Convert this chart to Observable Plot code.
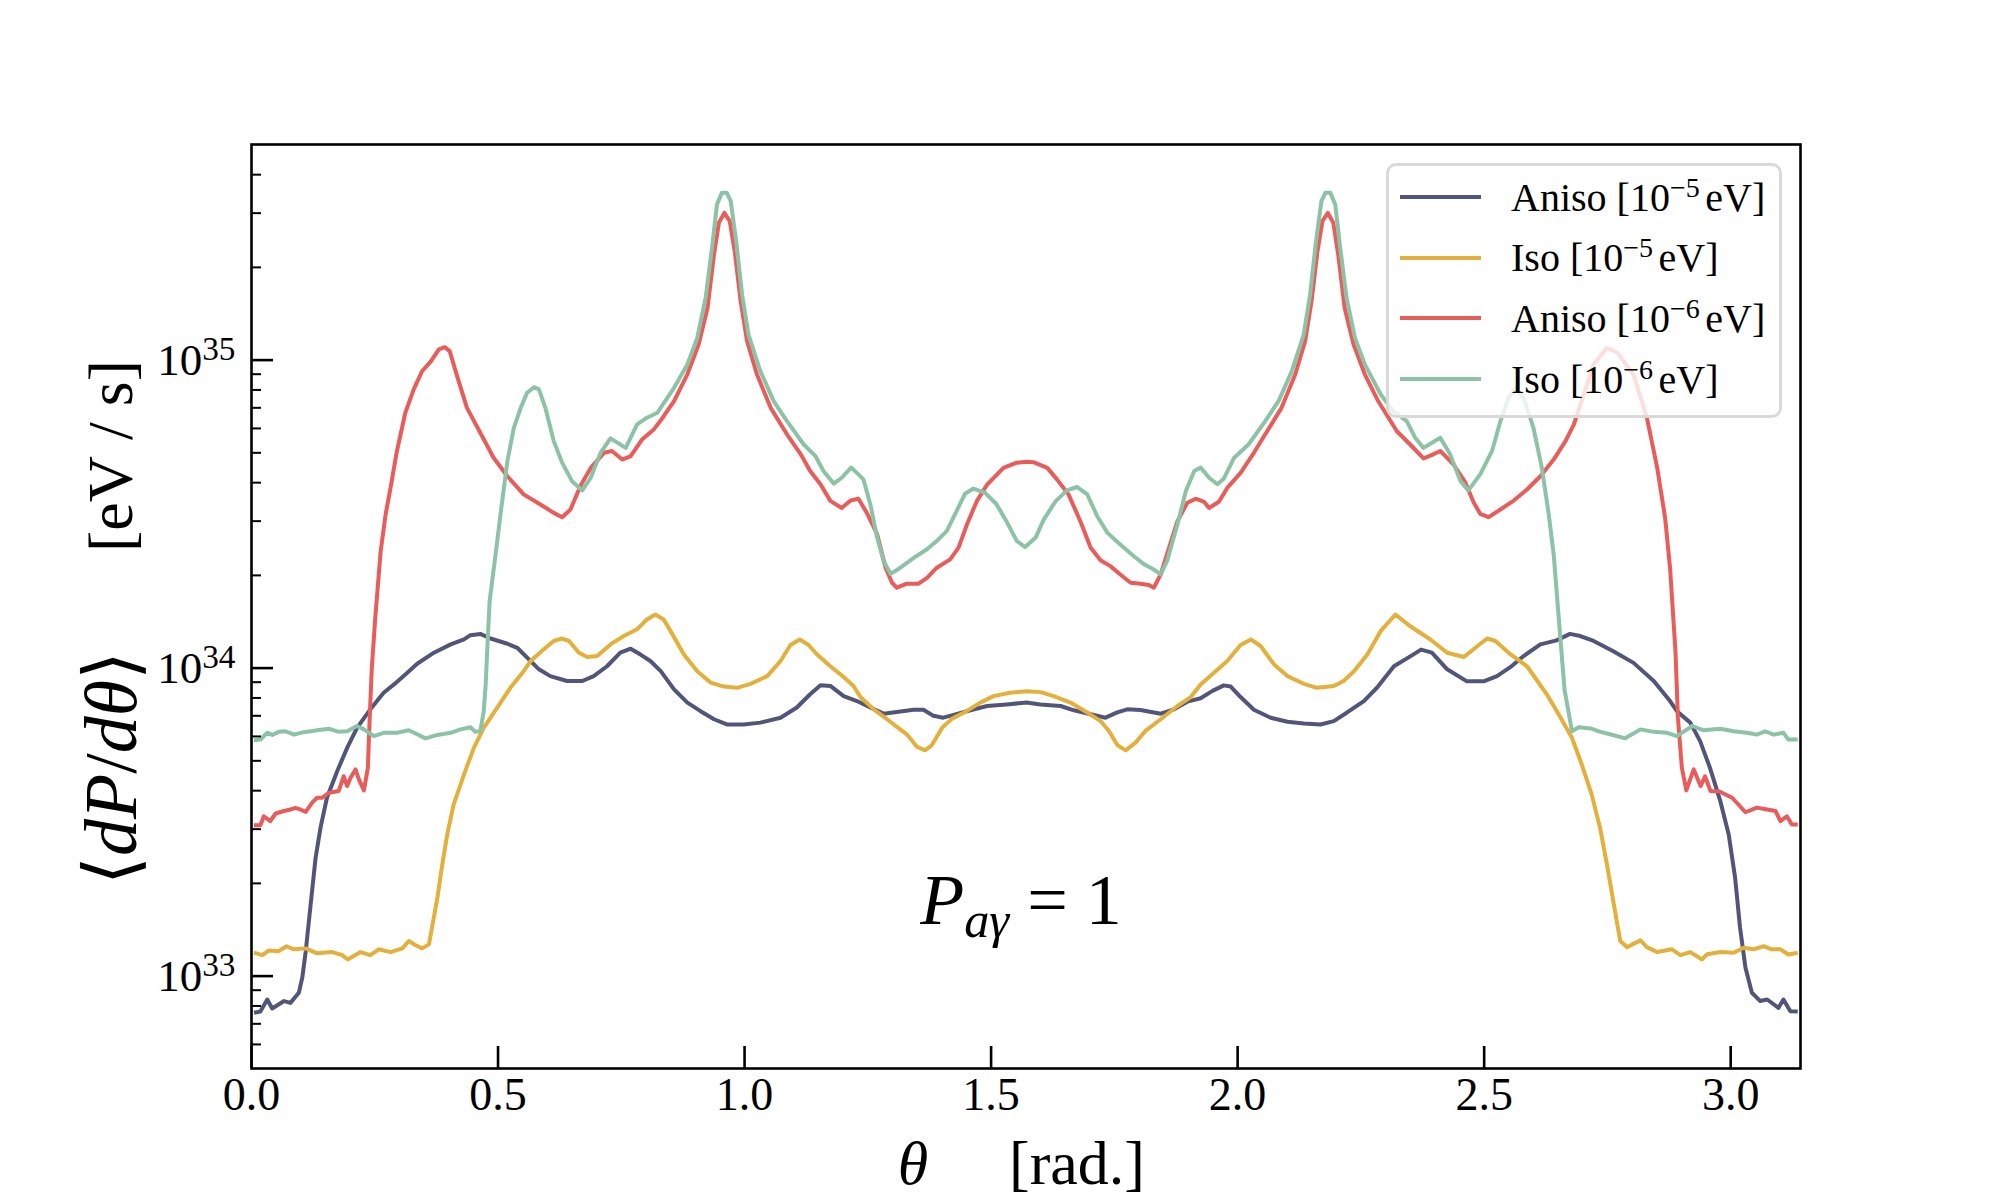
<!DOCTYPE html>
<html>
<head>
<meta charset="utf-8">
<script src="https://cdn.jsdelivr.net/npm/d3@7"></script>
<script src="https://cdn.jsdelivr.net/npm/@observablehq/plot@0.6"></script>
<style>
  html, body { margin: 0; padding: 0; background: #fff; }
  #wrap { position: relative; width: 2000px; height: 1200px; font-family: "Liberation Serif", "DejaVu Serif", serif; color: #000; }
  #chart { position: absolute; left: 0; top: 0; }
  .ov { position: absolute; white-space: nowrap; line-height: 1; }
  #legend { position: absolute; left: 1386px; top: 163px; width: 390px; height: 249px;
            border: 3px solid #d9d9d9; border-radius: 10px; background: rgba(255,255,255,0.8); }
  .lrow { position: absolute; left: 0; height: 60px; display: flex; align-items: center; font-size: 40px; }
  .sw { position: absolute; left: 11px; width: 81px; height: 3.8px; }
  .lt { position: absolute; left: 122px; }
  .sup { font-size: 0.7em; vertical-align: 0.5em; line-height: 0; margin-right: 0.2em; }
</style>
</head>
<body>
<div id="wrap">
  <div id="chart"></div>
  <div id="legend"></div>
  <div class="ov" id="ylab1" style="font-size:74px;"></div>
  <div class="ov" id="ylab2" style="font-size:64px;"></div>
  <div class="ov" id="xlab1" style="font-size:62px;"></div>
  <div class="ov" id="xlab2" style="font-size:62px;"></div>
  <div class="ov" id="annot" style="font-size:72px;"></div>
</div>
<script>
// ---- data: [theta (rad), log10(<dP/dθ>) in eV/s] ----
const aniso5 = [
[0.005,32.881],[0.018,32.885],[0.032,32.924],[0.042,32.895],[0.066,32.919],[0.079,32.913],[0.096,32.946],
[0.103,32.995],[0.110,33.081],[0.120,33.233],[0.130,33.384],[0.140,33.482],[0.153,33.579],[0.174,33.666],
[0.194,33.741],[0.214,33.806],[0.241,33.866],[0.268,33.920],[0.289,33.947],[0.316,33.985],[0.336,34.014],
[0.370,34.050],[0.404,34.077],[0.431,34.093],[0.444,34.107],[0.464,34.111],[0.485,34.096],[0.519,34.079],
[0.539,34.066],[0.559,34.034],[0.583,33.996],[0.606,33.974],[0.640,33.958],[0.671,33.958],[0.694,33.974],
[0.721,34.006],[0.748,34.050],[0.769,34.063],[0.789,34.044],[0.809,34.023],[0.830,33.990],[0.857,33.931],
[0.884,33.888],[0.910,33.861],[0.938,33.834],[0.964,33.817],[0.998,33.817],[1.032,33.823],[1.073,33.839],
[1.106,33.872],[1.133,33.915],[1.154,33.944],[1.174,33.942],[1.201,33.909],[1.228,33.893],[1.255,33.872],
[1.282,33.852],[1.316,33.859],[1.343,33.865],[1.363,33.865],[1.383,33.845],[1.403,33.839],[1.424,33.848],
[1.458,33.863],[1.492,33.877],[1.531,33.882],[1.572,33.888],[1.600,33.882],[1.641,33.877],[1.668,33.863],
[1.702,33.850],[1.732,33.839],[1.756,33.856],[1.776,33.866],[1.803,33.864],[1.844,33.852],[1.871,33.866],
[1.898,33.891],[1.925,33.902],[1.949,33.926],[1.972,33.944],[1.986,33.940],[2.006,33.906],[2.033,33.865],
[2.067,33.839],[2.101,33.826],[2.134,33.820],[2.168,33.817],[2.195,33.828],[2.222,33.856],[2.256,33.893],
[2.283,33.937],[2.317,34.006],[2.351,34.039],[2.372,34.060],[2.394,34.050],[2.425,33.996],[2.465,33.957],
[2.499,33.957],[2.526,33.974],[2.553,34.003],[2.580,34.039],[2.614,34.077],[2.647,34.090],[2.674,34.111],
[2.695,34.104],[2.722,34.088],[2.762,34.055],[2.803,34.017],[2.844,33.958],[2.877,33.893],[2.891,33.860],
[2.918,33.823],[2.938,33.763],[2.958,33.676],[2.979,33.568],[2.996,33.460],[3.009,33.319],[3.019,33.157],
[3.030,33.027],[3.043,32.946],[3.060,32.919],[3.074,32.924],[3.097,32.897],[3.107,32.924],[3.121,32.886],
[3.136,32.885]];

const iso5 = [
[0.005,33.076],[0.022,33.068],[0.035,33.083],[0.055,33.081],[0.071,33.097],[0.086,33.087],[0.110,33.090],
[0.133,33.074],[0.164,33.078],[0.184,33.068],[0.195,33.054],[0.221,33.078],[0.241,33.068],[0.258,33.087],
[0.282,33.078],[0.306,33.090],[0.319,33.114],[0.333,33.100],[0.346,33.090],[0.360,33.103],[0.366,33.157],
[0.377,33.254],[0.387,33.363],[0.397,33.460],[0.410,33.557],[0.431,33.655],[0.451,33.741],[0.471,33.806],
[0.498,33.871],[0.525,33.936],[0.552,33.990],[0.566,34.023],[0.593,34.061],[0.613,34.088],[0.630,34.096],
[0.644,34.088],[0.664,34.050],[0.681,34.036],[0.701,34.039],[0.728,34.077],[0.755,34.104],[0.782,34.126],
[0.802,34.158],[0.819,34.174],[0.836,34.158],[0.850,34.120],[0.877,34.044],[0.904,33.990],[0.931,33.953],
[0.958,33.940],[0.985,33.936],[1.012,33.949],[1.046,33.974],[1.073,34.023],[1.093,34.075],[1.112,34.093],
[1.130,34.075],[1.147,34.044],[1.174,34.006],[1.201,33.971],[1.221,33.942],[1.235,33.906],[1.262,33.866],
[1.289,33.834],[1.309,33.809],[1.329,33.785],[1.350,33.744],[1.366,33.733],[1.380,33.750],[1.401,33.807],
[1.421,33.836],[1.451,33.861],[1.478,33.888],[1.505,33.909],[1.538,33.920],[1.572,33.925],[1.600,33.922],
[1.627,33.909],[1.661,33.888],[1.695,33.856],[1.722,33.828],[1.739,33.796],[1.756,33.750],[1.773,33.733],
[1.793,33.758],[1.813,33.796],[1.844,33.834],[1.878,33.877],[1.905,33.906],[1.925,33.947],[1.952,33.985],
[1.979,34.023],[2.006,34.075],[2.027,34.093],[2.047,34.071],[2.074,34.012],[2.101,33.974],[2.134,33.949],
[2.161,33.936],[2.195,33.942],[2.215,33.958],[2.236,33.990],[2.263,34.044],[2.290,34.120],[2.320,34.174],
[2.350,34.136],[2.391,34.093],[2.425,34.050],[2.459,34.036],[2.486,34.071],[2.506,34.096],[2.523,34.088],
[2.553,34.045],[2.587,34.006],[2.627,33.915],[2.654,33.842],[2.678,33.774],[2.698,33.687],[2.718,33.590],
[2.735,33.482],[2.749,33.363],[2.763,33.233],[2.776,33.114],[2.790,33.094],[2.817,33.116],[2.830,33.094],
[2.851,33.078],[2.881,33.087],[2.898,33.068],[2.918,33.078],[2.942,33.054],[2.952,33.071],[2.979,33.078],
[3.006,33.076],[3.026,33.092],[3.046,33.087],[3.067,33.097],[3.083,33.087],[3.101,33.087],[3.117,33.070],
[3.136,33.076]];

const aniso6 = [
[0.005,33.490],[0.018,33.490],[0.025,33.519],[0.038,33.503],[0.049,33.528],[0.066,33.536],[0.079,33.541],
[0.089,33.546],[0.099,33.541],[0.110,33.533],[0.123,33.563],[0.133,33.579],[0.143,33.579],[0.157,33.595],
[0.177,33.601],[0.187,33.649],[0.194,33.617],[0.201,33.644],[0.211,33.671],[0.218,33.638],[0.228,33.603],
[0.236,33.676],[0.240,33.850],[0.244,34.000],[0.251,34.163],[0.262,34.380],[0.272,34.499],[0.282,34.585],
[0.295,34.705],[0.312,34.829],[0.329,34.905],[0.346,34.964],[0.363,34.994],[0.380,35.035],[0.392,35.042],
[0.402,35.029],[0.417,34.948],[0.437,34.845],[0.464,34.764],[0.491,34.683],[0.519,34.623],[0.552,34.564],
[0.586,34.531],[0.613,34.504],[0.630,34.490],[0.647,34.515],[0.667,34.591],[0.688,34.650],[0.715,34.699],
[0.731,34.705],[0.752,34.677],[0.769,34.688],[0.792,34.742],[0.816,34.775],[0.829,34.802],[0.857,34.867],
[0.884,34.954],[0.907,35.051],[0.925,35.170],[0.938,35.343],[0.948,35.446],[0.959,35.478],[0.970,35.451],
[0.980,35.354],[0.992,35.192],[1.005,35.062],[1.025,34.954],[1.053,34.845],[1.086,34.759],[1.114,34.694],
[1.133,34.640],[1.154,34.597],[1.174,34.543],[1.197,34.520],[1.215,34.544],[1.231,34.550],[1.248,34.504],
[1.269,34.434],[1.286,34.326],[1.299,34.277],[1.309,34.261],[1.329,34.274],[1.353,34.274],[1.370,34.293],
[1.390,34.326],[1.417,34.353],[1.434,34.391],[1.451,34.466],[1.471,34.542],[1.492,34.596],[1.525,34.650],
[1.552,34.667],[1.572,34.670],[1.587,34.668],[1.614,34.650],[1.634,34.612],[1.657,34.564],[1.681,34.477],
[1.702,34.391],[1.722,34.350],[1.742,34.331],[1.762,34.304],[1.783,34.277],[1.803,34.274],[1.820,34.270],
[1.830,34.261],[1.844,34.304],[1.861,34.391],[1.878,34.477],[1.898,34.537],[1.915,34.550],[1.932,34.540],
[1.942,34.520],[1.962,34.540],[1.979,34.585],[2.006,34.634],[2.033,34.699],[2.056,34.759],[2.089,34.845],
[2.117,34.954],[2.137,35.062],[2.150,35.192],[2.162,35.354],[2.172,35.451],[2.183,35.478],[2.194,35.446],
[2.204,35.343],[2.217,35.170],[2.235,35.051],[2.258,34.954],[2.285,34.867],[2.323,34.769],[2.350,34.726],
[2.377,34.681],[2.391,34.690],[2.411,34.705],[2.438,34.661],[2.462,34.602],[2.479,34.537],[2.492,34.501],
[2.509,34.490],[2.533,34.515],[2.560,34.544],[2.587,34.580],[2.614,34.623],[2.641,34.677],[2.665,34.737],
[2.682,34.791],[2.702,34.889],[2.722,34.986],[2.749,35.040],[2.770,35.024],[2.803,34.953],[2.830,34.813],
[2.851,34.650],[2.867,34.488],[2.877,34.326],[2.888,34.055],[2.893,33.839],[2.901,33.676],[2.910,33.603],
[2.925,33.671],[2.939,33.617],[2.948,33.649],[2.959,33.601],[2.976,33.600],[3.003,33.579],[3.030,33.532],
[3.053,33.547],[3.074,33.541],[3.091,33.536],[3.101,33.503],[3.114,33.519],[3.124,33.492],[3.136,33.492]];

const iso6 = [
[0.005,33.766],[0.018,33.768],[0.032,33.790],[0.042,33.783],[0.055,33.793],[0.069,33.795],[0.086,33.784],
[0.106,33.792],[0.133,33.798],[0.157,33.803],[0.177,33.793],[0.194,33.795],[0.214,33.812],[0.228,33.801],
[0.248,33.779],[0.268,33.790],[0.295,33.790],[0.319,33.798],[0.336,33.785],[0.353,33.772],[0.377,33.783],
[0.404,33.790],[0.424,33.801],[0.444,33.808],[0.454,33.793],[0.464,33.795],[0.471,33.860],[0.475,33.947],
[0.478,34.055],[0.483,34.218],[0.495,34.369],[0.505,34.499],[0.519,34.672],[0.532,34.780],[0.546,34.845],
[0.559,34.894],[0.573,34.912],[0.583,34.905],[0.596,34.845],[0.613,34.737],[0.630,34.667],[0.650,34.607],
[0.671,34.577],[0.688,34.618],[0.708,34.699],[0.728,34.746],[0.742,34.732],[0.759,34.715],[0.782,34.791],
[0.802,34.813],[0.823,34.829],[0.857,34.910],[0.884,34.986],[0.904,35.072],[0.921,35.202],[0.934,35.365],
[0.944,35.505],[0.954,35.543],[0.964,35.543],[0.972,35.516],[0.983,35.386],[0.995,35.213],[1.008,35.083],
[1.032,34.964],[1.059,34.867],[1.086,34.802],[1.120,34.726],[1.144,34.688],[1.160,34.640],[1.181,34.599],
[1.197,34.618],[1.216,34.651],[1.231,34.629],[1.241,34.613],[1.255,34.532],[1.269,34.423],[1.282,34.348],
[1.296,34.306],[1.316,34.326],[1.343,34.358],[1.370,34.386],[1.390,34.413],[1.410,34.445],[1.430,34.510],
[1.447,34.566],[1.464,34.583],[1.488,34.569],[1.511,34.532],[1.531,34.477],[1.552,34.413],[1.569,34.393],
[1.590,34.423],[1.607,34.483],[1.631,34.542],[1.654,34.577],[1.674,34.588],[1.695,34.564],[1.715,34.494],
[1.736,34.439],[1.762,34.401],[1.789,34.364],[1.810,34.337],[1.830,34.320],[1.844,34.304],[1.857,34.348],
[1.878,34.467],[1.895,34.575],[1.912,34.640],[1.925,34.651],[1.942,34.618],[1.959,34.597],[1.972,34.615],
[1.993,34.683],[2.022,34.726],[2.056,34.802],[2.083,34.867],[2.110,34.964],[2.134,35.083],[2.147,35.213],
[2.159,35.386],[2.170,35.516],[2.178,35.543],[2.188,35.543],[2.198,35.505],[2.208,35.365],[2.221,35.202],
[2.238,35.072],[2.258,34.986],[2.290,34.889],[2.316,34.834],[2.343,34.802],[2.360,34.748],[2.377,34.715],
[2.411,34.748],[2.431,34.694],[2.452,34.607],[2.468,34.577],[2.492,34.629],[2.516,34.705],[2.533,34.802],
[2.550,34.878],[2.563,34.908],[2.580,34.878],[2.600,34.780],[2.617,34.650],[2.631,34.499],[2.641,34.369],
[2.654,34.109],[2.663,33.930],[2.672,33.850],[2.678,33.795],[2.692,33.808],[2.716,33.804],[2.736,33.793],
[2.763,33.782],[2.786,33.772],[2.817,33.801],[2.844,33.793],[2.871,33.790],[2.891,33.779],[2.922,33.812],
[2.945,33.798],[2.979,33.803],[3.006,33.795],[3.033,33.790],[3.053,33.784],[3.070,33.795],[3.087,33.784],
[3.107,33.790],[3.117,33.768],[3.136,33.768]];

const seriesNames = ["Aniso 1e-5", "Iso 1e-5", "Aniso 1e-6", "Iso 1e-6"];
const seriesData = [aniso5, iso5, aniso6, iso6];
const seriesColors = ["#52557a", "#e3b03b", "#e85c5a", "#8cc3a6"];
const legendLabels = [["Aniso", "−5"], ["Iso", "−5"], ["Aniso", "−6"], ["Iso", "−6"]];

const xTicks = [0, 0.5, 1.0, 1.5, 2.0, 2.5, 3.0];
const yMajorExp = [33, 34, 35];
const yMinorMant = [2, 3, 4, 5, 6, 7, 8, 9];
const yMinorExp = [32, 33, 34, 35];
const yDomainExp = [32.7, 35.7];

// ---- build ----
const rows = seriesData.flatMap((arr, i) => arr.map(([t, lg]) => ({theta: t, value: Math.pow(10, lg), series: seriesNames[i]})));
const yLo = Math.pow(10, yDomainExp[0]), yHi = Math.pow(10, yDomainExp[1]);
const yMajor = yMajorExp.map(e => Math.pow(10, e));
const yMinor = yMinorExp.flatMap(e => yMinorMant.map(m => m * Math.pow(10, e))).filter(v => v > yLo * 1.01 && v < yHi * 0.99);

const plot = Plot.plot({
  width: 2000, height: 1200,
  marginLeft: 251, marginRight: 200, marginTop: 144, marginBottom: 132,
  style: {fontFamily: "'Liberation Serif', 'DejaVu Serif', serif", background: "transparent", color: "black", overflow: "visible"},
  x: {domain: [0, Math.PI], label: null},
  y: {type: "log", domain: [yLo, yHi], label: null},
  color: {domain: seriesNames, range: seriesColors},
  marks: [
    ...seriesNames.map((name, i) => Plot.line(rows.filter(r => r.series === name), {x: "theta", y: "value", stroke: seriesColors[i], strokeWidth: 4, strokeLinejoin: "round", strokeLinecap: "butt"})),
    Plot.frame({stroke: "black", strokeWidth: 2.6}),
    Plot.axisX(xTicks, {tickSize: -22, fill: "none", strokeWidth: 2.6, label: null}),
    Plot.axisX(xTicks, {tickSize: 0, tickPadding: 9, stroke: "none", fontSize: 46, tickFormat: d3.format(".1f"), label: null}),
    Plot.axisY(yMajor, {tickSize: -22, fill: "none", strokeWidth: 2.6, label: null}),
    Plot.axisY(yMinor, {tickSize: -10, fill: "none", strokeWidth: 2, label: null}),
    Plot.axisY(yMajor, {tickSize: 0, tickPadding: 16, stroke: "none", fontSize: 45, tickFormat: d => "1e" + Math.round(Math.log10(d)), label: null})
  ]
});
document.getElementById("chart").appendChild(plot);

// superscript exponents on y tick labels
d3.select(plot).selectAll("text").each(function () {
  const m = (this.textContent || "").match(/^1e(\d+)$/);
  if (!m) return;
  const el = d3.select(this);
  el.text(null);
  el.append("tspan").text("10");
  el.append("tspan").attr("dy", "-0.45em").attr("font-size", "0.74em").text(m[1]);
});

// legend
const legend = document.getElementById("legend");
const centers = [31, 91.7, 152.4, 213];
legendLabels.forEach(([name, exp], i) => {
  const row = document.createElement("div");
  row.className = "lrow";
  row.style.top = (centers[i] - 30) + "px";
  row.style.width = "100%";
  row.innerHTML = `<div class="sw" style="background:${seriesColors[i]}"></div>` +
    `<span class="lt">${name} [10<span class="sup">${exp}</span>eV]</span>`;
  legend.appendChild(row);
});

// axis labels and annotation
function place(id, html, cx, cy, rotate) {
  const el = document.getElementById(id);
  el.innerHTML = html;
  el.style.left = cx + "px";
  el.style.top = cy + "px";
  el.style.transform = `translate(-50%, -50%)` + (rotate ? ` rotate(${rotate}deg)` : "");
}
place("ylab1", "⟨<i>dP</i>/<i>dθ</i>⟩", 111, 768, -90);
place("ylab2", "[eV&nbsp;/&nbsp;s]", 111, 456, -90);
place("xlab1", "<i>θ</i>", 913, 1163, 0);
place("xlab2", "[rad.]", 1077, 1163, 0);
place("annot", "<i>P</i><span style=\"font-size:0.7em;vertical-align:-0.25em;line-height:0;font-style:italic\">aγ</span> = 1", 1021, 900, 0);
</script>
</body>
</html>
